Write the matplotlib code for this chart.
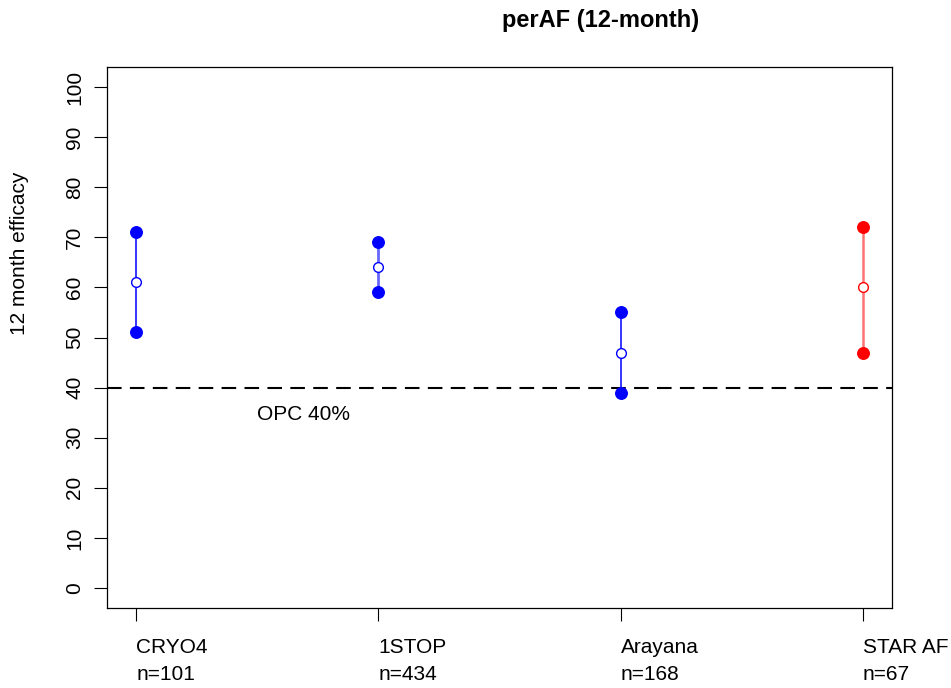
import numpy as np
import matplotlib
matplotlib.use("Agg")
import matplotlib.pyplot as plt

plt.rcParams['font.family'] = ['Liberation Sans', 'DejaVu Sans']

# data
trials = ["CRYO4", "1STOP", "Arayana", "STAR AF"]
n_pts = [101, 434, 168, 67]
point_est = [61, 64, 47, 60]
ci_low = [51, 59, 39, 47]
ci_high = [71, 69, 55, 72]
opc = 40

colors = ["#0000FF", "#0000FF", "#0000FF", "#FF0000"]
line_alpha = [1.0, 0.6, 1.0, 0.55]
line_w = [1.1, 2.0, 1.1, 1.8]

fig = plt.figure(figsize=(9.51, 6.88), dpi=100)
ax = fig.add_axes([107/951, 80/688, 785/951, 541/688])

x = np.arange(1, len(trials) + 1)
for i in range(len(trials)):
    ax.plot([x[i], x[i]], [ci_low[i], ci_high[i]], color=colors[i],
            lw=line_w[i], alpha=line_alpha[i], zorder=2)
    ax.plot([x[i], x[i]], [ci_low[i], ci_high[i]], 'o', color=colors[i],
            ms=8.3, mec=colors[i], zorder=3)
    ax.plot(x[i], point_est[i], 'o', mfc='white', mec=colors[i],
            ms=7, mew=1.0, zorder=3)

ax.axhline(opc, color='black', lw=1.5, dashes=(7, 4), zorder=1)
ax.text(1.5, 34.7, "OPC %d%%" % opc, fontsize=15, ha='left', va='center')

ax.set_xlim(0.88, 4.12)
ax.set_ylim(-4, 104)
ax.set_yticks(np.arange(0, 101, 10))
ax.set_yticklabels([str(v) for v in range(0, 101, 10)], rotation=90,
                   va='center', fontsize=15)
ax.set_xticks(x)
ax.set_xticklabels(["%s\nn=%d" % (t, n) for t, n in zip(trials, n_pts)],
                   ha='left', fontsize=15, linespacing=1.55)
ax.tick_params(axis='y', length=9.4, width=0.8, pad=7)
ax.tick_params(axis='x', length=9.4, width=0.8, pad=12)
for s in ax.spines.values():
    s.set_linewidth(0.9)

fig.text(601/951, 1 - 20/688, "perAF (12-month)", fontsize=17,
         fontweight='bold', ha='center', va='center')
fig.text(20/951, 1 - 253/688, "12 month efficacy", fontsize=15,
         rotation=90, ha='center', va='center')

fig.savefig("out.png", dpi=100)
